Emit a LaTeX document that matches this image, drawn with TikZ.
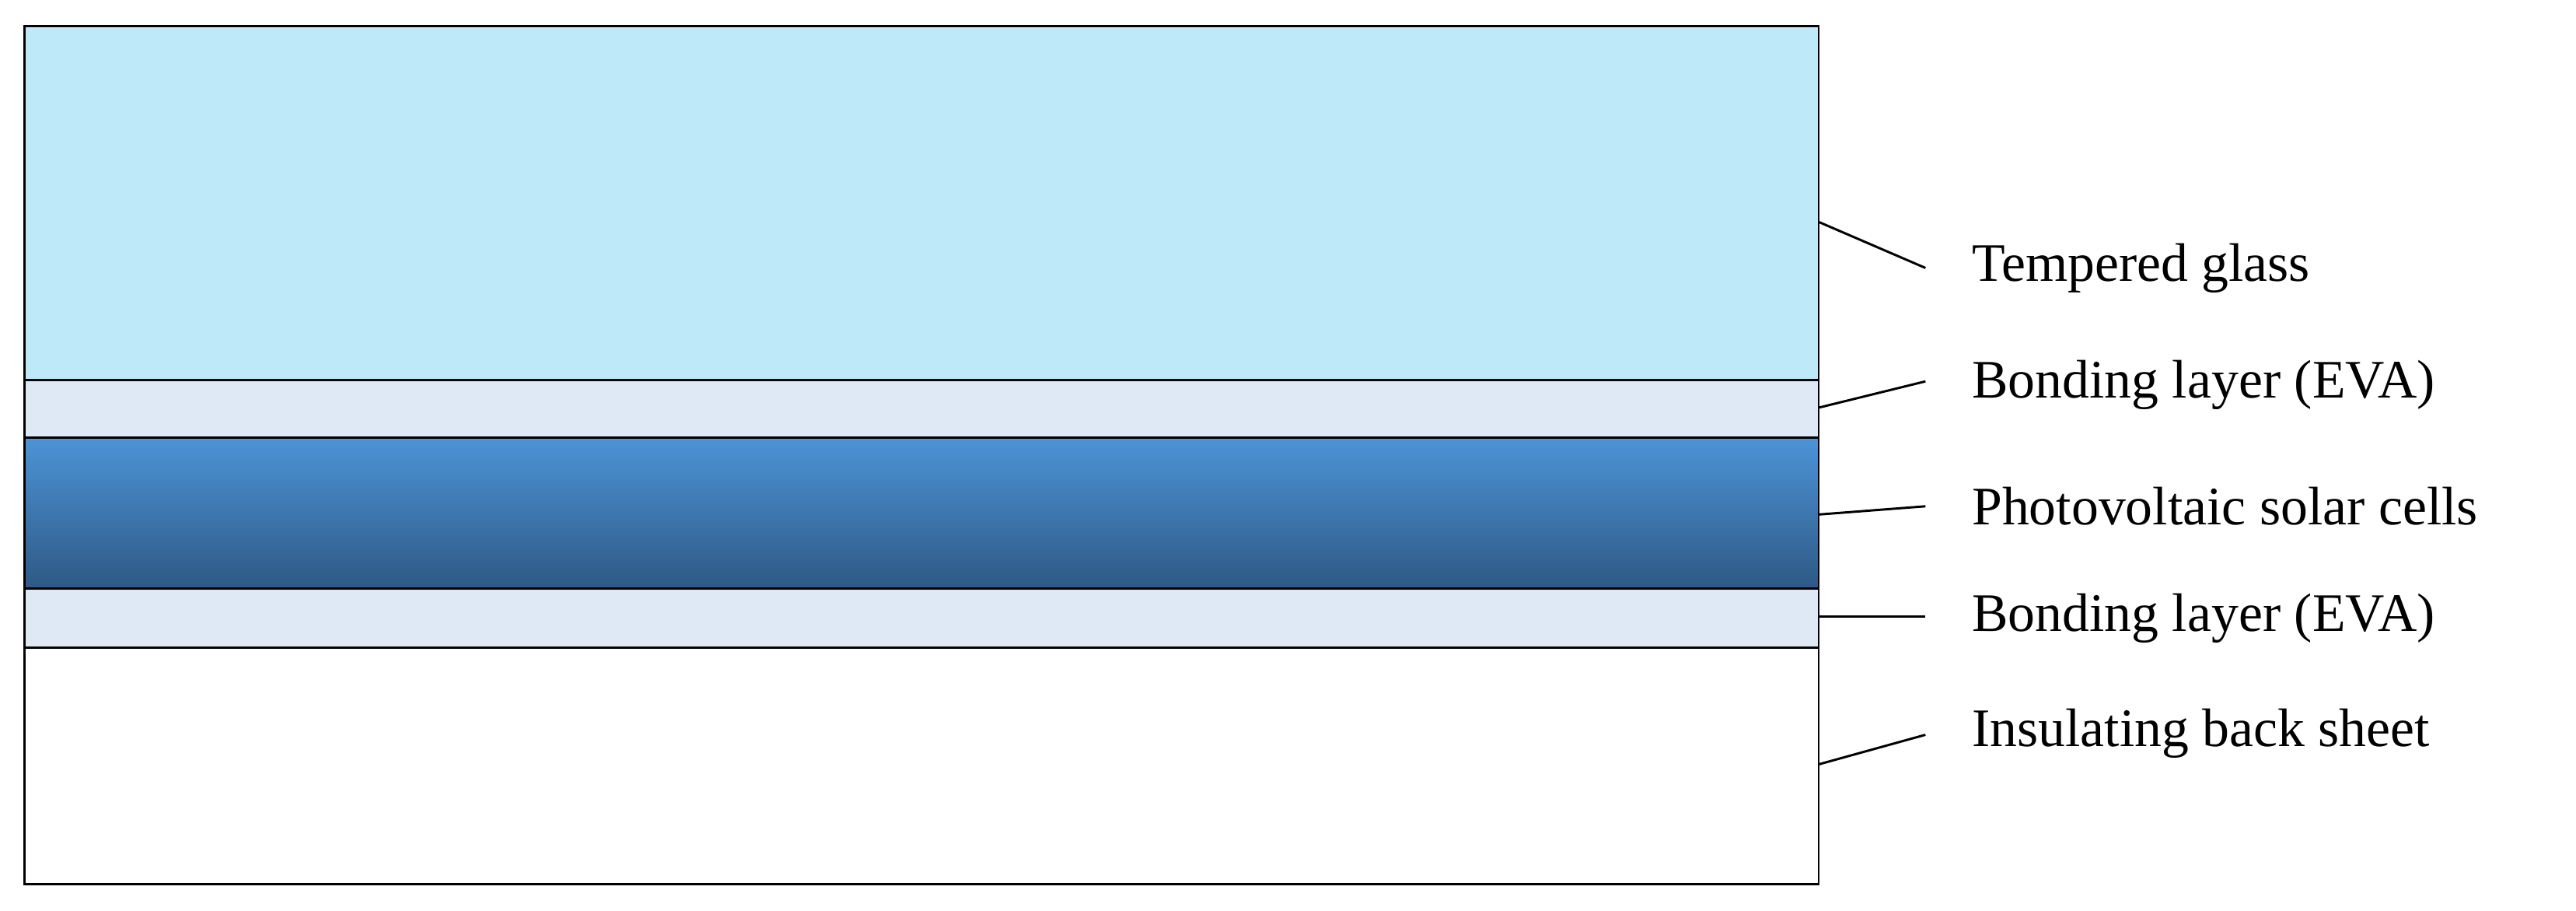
\documentclass[tikz,border=0pt]{standalone}
\usepackage{fontspec}
\setmainfont{Liberation Serif}
\definecolor{glass}{HTML}{BDE9F8}
\definecolor{eva}{HTML}{DEE9F5}
\definecolor{pvtop}{HTML}{4C94D8}
\definecolor{pvbot}{HTML}{2E5985}
\begin{document}
\begin{tikzpicture}[x=0.5pt,y=-0.5pt,
  layer/.style={draw=black,line width=0.7pt},
  lead/.style={draw=black,line width=0.7pt},
  lbl/.style={anchor=west,inner sep=0pt,font=\fontsize{16.5}{18}\selectfont}]
\useasboundingbox (0,0) rectangle (1568,554);
\fill[white] (0,0) rectangle (1568,554);
\path[layer,fill=glass] (15,16) rectangle (1107,231);
\path[layer,fill=eva] (15,231) rectangle (1107,266);
\shade[top color=pvtop,bottom color=pvbot] (15,266) rectangle (1107,358);
\path[layer] (15,266) rectangle (1107,358);
\path[layer,fill=eva] (15,358) rectangle (1107,394);
\path[layer,fill=white] (15,394) rectangle (1107,538);
\coordinate (g) at (1107,135);
\coordinate (e1) at (1107,248);
\coordinate (p) at (1107,313);
\coordinate (e2) at (1107,375);
\coordinate (b) at (1107,465);
\node[lbl] (tg) at (1200,163) {Tempered glass};
\node[lbl] (te1) at (1200,234) {Bonding layer (EVA)};
\node[lbl] (tp) at (1200,308) {Photovoltaic solar cells};
\node[lbl] (te2) at (1200,376) {Bonding layer (EVA)};
\node[lbl] (tb) at (1200,446) {Insulating back sheet};
\draw[lead] (g) -- (1172,163);
\draw[lead] (e1) -- (1172,232);
\draw[lead] (p) -- (1172,308);
\draw[lead] (e2) -- (1172,375);
\draw[lead] (b) -- (1172,447);
\end{tikzpicture}
\end{document}
